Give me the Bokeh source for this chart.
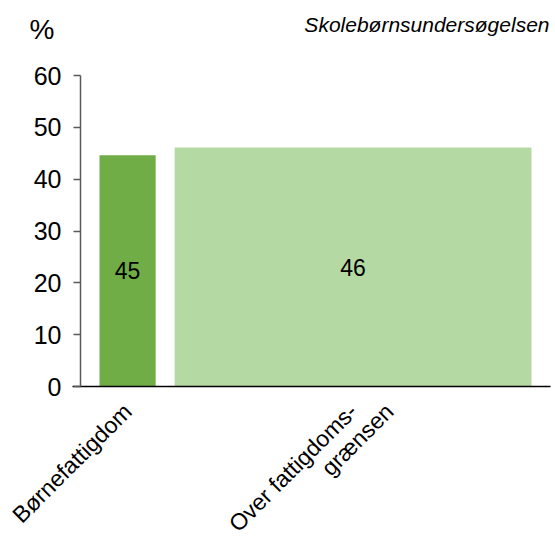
import math
from bokeh.plotting import figure
from bokeh.models import Range1d, FixedTicker, ColumnDataSource
from bokeh.core.properties import value
from bokeh.embed import file_html
from bokeh.resources import INLINE

# Data
categories = ["Børnefattigdom", "Over fattigdoms-", "grænsen"]
shares = [13.6, 86.4]          # bar widths (share of children, %)
values = [44.6, 46.1]          # percent
bar_colors = ["#70AD47", "#B5D9A2"]
y_ticks = [0, 10, 20, 30, 40, 50, 60]
y_unit = "%"
source_note = "Skolebørnsundersøgelsen"

gap = 4.6
centers = []
pos = gap
for w in shares:
    centers.append(pos + w / 2)
    pos += w + gap
# second line of the second category label sits a little further along
label_ticks = [centers[0], centers[1], centers[1] + 8.8]

FONT = "Liberation Sans"
W, H = 552, 541
# pixel geometry of the plotting area (axes drawn at fixed locations)
ox, oy = 80, 386            # pixel position of (0, 0)
sx = 4.13                   # px per x unit
sy = 311 / 60               # px per y unit

x_range = Range1d(-ox / sx, (W - ox) / sx)
y_range = Range1d(-(H - oy) / sy, oy / sy)

p = figure(width=W, height=H, output_backend="svg", toolbar_location=None,
           x_range=x_range, y_range=y_range,
           min_border_left=0, min_border_right=0, min_border_top=0, min_border_bottom=0)
p.outline_line_color = None
p.grid.visible = False

src = ColumnDataSource(dict(x=centers, w=shares, top=values, color=bar_colors,
                            ly=[v / 2 for v in values], lab=[str(round(v)) for v in values]))
p.vbar(x="x", width="w", top="top", bottom=0, color="color", source=src, line_color=None)
p.text(x="x", y="ly", text="lab", source=src, text_align="center", text_baseline="middle",
       text_font=value(FONT), text_font_size="23px", text_color="black")

# unit and source note
p.text(x=[(29 - ox) / sx], y=[(oy - 29) / sy], text=[y_unit], text_font=value(FONT),
       text_font_size="28px", text_align="left", text_baseline="middle", text_color="black")
p.text(x=[(549 - ox) / sx], y=[(oy - 24) / sy], text=[source_note], text_font=value(FONT),
       text_font_size="21px", text_font_style="italic", text_align="right",
       text_baseline="middle", text_color="black")

# y axis
ya = p.yaxis[0]
ya.fixed_location = 0
ya.bounds = (0, 60)
ya.ticker = FixedTicker(ticks=y_ticks)
ya.axis_line_color = "#595959"
ya.axis_line_width = 1.5
ya.major_tick_line_color = "#595959"
ya.major_tick_line_width = 1.5
ya.major_tick_in = 0
ya.major_tick_out = 7
ya.minor_tick_line_color = None
ya.major_label_text_font = FONT
ya.major_label_text_font_size = "25px"
ya.major_label_text_color = "black"
ya.major_label_standoff = 12

# x axis
xa = p.xaxis[0]
xa.fixed_location = 0
xa.bounds = (-8 / sx, (W - 2 - ox) / sx)
xa.ticker = FixedTicker(ticks=label_ticks)
xa.major_label_overrides = {t: n for t, n in zip(label_ticks, categories)}
xa.major_label_orientation = math.pi / 4
xa.axis_line_color = "black"
xa.axis_line_width = 1.5
xa.major_tick_line_color = None
xa.minor_tick_line_color = None
xa.major_label_text_font = FONT
xa.major_label_text_font_size = "23px"
xa.major_label_text_color = "black"
xa.major_label_standoff = 15

open("out.html", "w").write(file_html(p, INLINE))
